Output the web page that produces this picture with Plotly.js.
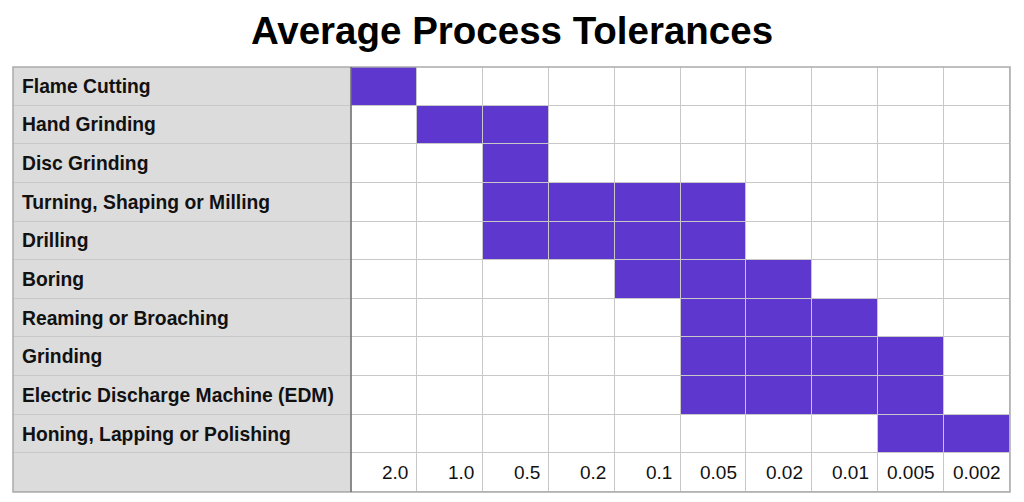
<!DOCTYPE html>
<html>
<head>
<meta charset="utf-8">
<script src="https://cdn.plot.ly/plotly-3.0.1.min.js"></script>
<style>html,body{margin:0;padding:0;background:#fff;}#chart{width:1024px;height:502px;}</style>
</head>
<body>
<div id="chart"></div>
<script>
// ---- data ----
const tolerances = ["2.0", "1.0", "0.5", "0.2", "0.1", "0.05", "0.02", "0.01", "0.005", "0.002"];
const processes = [
  "Flame Cutting",
  "Hand Grinding",
  "Disc Grinding",
  "Turning, Shaping or Milling",
  "Drilling",
  "Boring",
  "Reaming or Broaching",
  "Grinding",
  "Electric Discharge Machine (EDM)",
  "Honing, Lapping or Polishing"
];
const coarsest = ["2.0", "1.0", "0.5", "0.5", "0.5", "0.1", "0.05", "0.05", "0.05", "0.005"];
const finest   = ["2.0", "0.5", "0.5", "0.05", "0.05", "0.02", "0.01", "0.005", "0.005", "0.002"];

// ---- build grid ----
const nCols = tolerances.length;
const nRows = processes.length + 1; // extra row for tolerance labels
const labelColLeft = -5.63;          // label column spans ~5.13 cell widths

const xEdges = [labelColLeft];
for (let i = 0; i <= nCols; i++) xEdges.push(i - 0.5);
const yEdges = [];
for (let j = 0; j <= nRows; j++) yEdges.push(j - 0.5);

const z = [];
for (let r = 0; r < nRows; r++) {
  const row = [2]; // label column -> gray
  for (let c = 0; c < nCols; c++) {
    if (r < processes.length) {
      const a = tolerances.indexOf(coarsest[r]);
      const b = tolerances.indexOf(finest[r]);
      row.push(c >= a && c <= b ? 1 : 0);
    } else {
      row.push(0);
    }
  }
  z.push(row);
}

const heat = {
  type: "heatmap",
  x: xEdges,
  y: yEdges,
  z: z,
  zmin: 0, zmax: 2,
  colorscale: [[0, "#ffffff"], [0.25, "#ffffff"], [0.25, "#5e37cf"], [0.75, "#5e37cf"], [0.75, "#dcdcdc"], [1, "#dcdcdc"]],
  showscale: false,
  xgap: 1, ygap: 1,
  hoverinfo: "skip"
};

const annotations = [];
processes.forEach((p, i) => {
  annotations.push({
    text: "<b>" + p + "</b>", xref: "paper", yref: "y", x: 0, y: i,
    xanchor: "left", yanchor: "middle", xshift: 7, showarrow: false,
    font: {family: "Liberation Sans, Arial, sans-serif", size: 19.3, color: "#111"}
  });
});
tolerances.forEach((t, i) => {
  annotations.push({
    text: t, xref: "x", yref: "y", x: i + 0.5, y: processes.length,
    xanchor: "right", yanchor: "middle", xshift: -7, showarrow: false,
    font: {family: "Liberation Sans, Arial, sans-serif", size: 19, color: "#111"}
  });
});

const layout = {
  width: 1024, height: 502,
  margin: {l: 13, r: 14, t: 67, b: 10, pad: 0},
  paper_bgcolor: "#ffffff",
  plot_bgcolor: "#c8c8c8",
  title: {
    text: "<b>Average Process Tolerances</b>",
    x: 0.5, xanchor: "center", y: 0.94, yref: "container", yanchor: "middle",
    font: {family: "Liberation Sans, Arial, sans-serif", size: 38.5, color: "#000"}
  },
  xaxis: {range: [labelColLeft, nCols - 0.5], showgrid: false, zeroline: false, showticklabels: false, ticks: "", fixedrange: true},
  yaxis: {range: [nRows - 0.5, -0.5], showgrid: false, zeroline: false, showticklabels: false, ticks: "", fixedrange: true},
  annotations: annotations,
  shapes: [
    {type: "rect", xref: "paper", yref: "paper", x0: 0, x1: 1, y0: 0, y1: 1, line: {color: "#aaaaaa", width: 1.5}},
    {type: "line", xref: "x", yref: "paper", x0: -0.5, x1: -0.5, y0: 0, y1: 1, line: {color: "#6e6e6e", width: 1.5}}
  ],
  showlegend: false
};

Plotly.newPlot("chart", [heat], layout, {displayModeBar: false, staticPlot: true});
</script>
</body>
</html>
